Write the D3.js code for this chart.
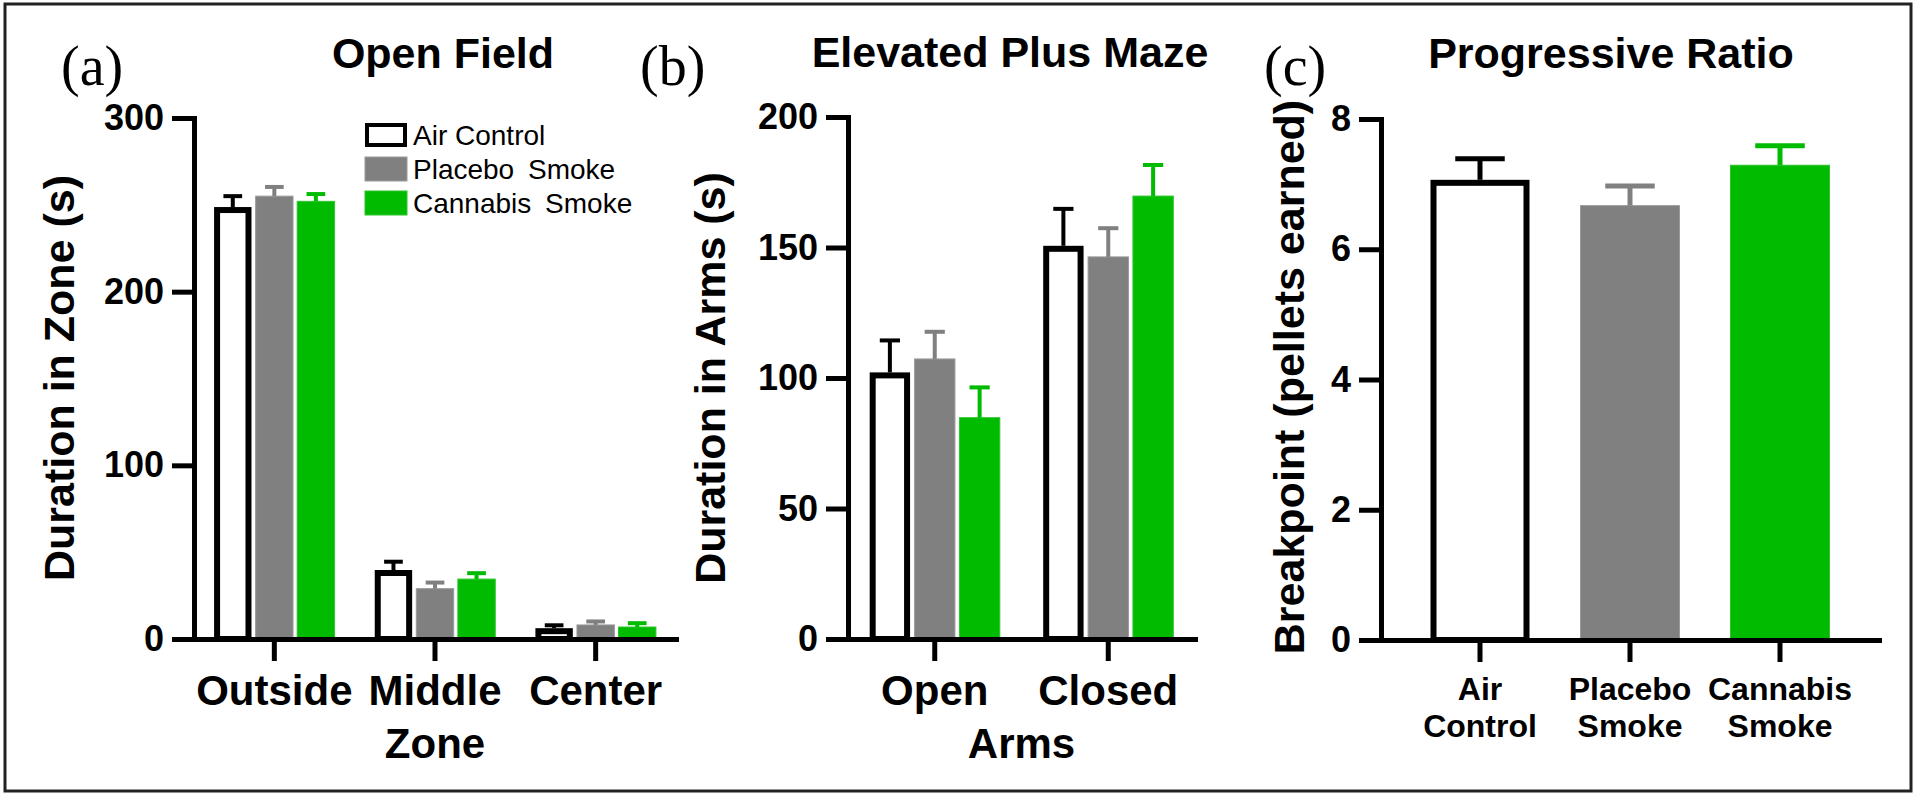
<!DOCTYPE html>
<html>
<head>
<meta charset="utf-8">
<script src="https://cdn.jsdelivr.net/npm/d3@7"></script>
<style>
    body { margin: 0; background: #fff; }
    text { font-family: "Liberation Sans", Arial, sans-serif; fill: #000; }
</style>
</head>
<body>
<svg id="fig"></svg>
<script>
    var w = 1920;
    var h = 795;

    // treatment groups shared by all three panels
    var treatments = ["Air Control", "Placebo Smoke", "Cannabis Smoke"];
    var fills = ["#ffffff", "#808080", "#00bb00"];
    var edges = ["#000000", "#9a9a9a", "#2ec42e"];
    var errColors = ["#000000", "#808080", "#00bb00"];

    // (a) open field
    var zones = ["Outside", "Middle", "Center"];
    var zoneMeans = [[247, 255, 252], [38, 29, 34.5], [4.5, 8.1, 6.9]];
    var zoneSem = [[8, 5.3, 4.2], [6.5, 3.5, 3.4], [3.4, 2, 2.2]];
    var zoneTicks = [0, 100, 200, 300];

    // (b) elevated plus maze
    var arms = ["Open", "Closed"];
    var armMeans = [[101, 107.3, 84.8], [149.5, 146.4, 169.7]];
    var armSem = [[13.4, 10.4, 11.6], [15.3, 11, 11.9]];
    var armTicks = [0, 50, 100, 150, 200];

    // (c) progressive ratio
    var prMeans = [7.02, 6.67, 7.29];
    var prSem = [0.37, 0.3, 0.3];
    var prTicks = [0, 2, 4, 6, 8];
    var prLabels = [["Air", "Control"], ["Placebo", "Smoke"], ["Cannabis", "Smoke"]];

    var svg = d3.select("#fig")
        .attr("width", w)
        .attr("height", h);

    // frame
    svg.append("rect")
        .attr("x", 5).attr("y", 4)
        .attr("width", 1906).attr("height", 787)
        .attr("fill", "none")
        .attr("stroke", "#222")
        .attr("stroke-width", 3);

    function styleAxis(g, fontSize) {
        g.select(".domain").attr("stroke-width", 5).attr("stroke-linecap", "square");
        g.selectAll(".tick line").attr("stroke-width", 5);
        g.selectAll(".tick text")
            .attr("font-size", fontSize + "px")
            .attr("font-weight", "bold")
            .attr("fill", "#000");
    }

    function yAxis(y, ticks, left) {
        var g = svg.append("g")
            .attr("transform", "translate(" + left + ",0)")
            .call(d3.axisLeft(y).tickValues(ticks).tickSize(22).tickPadding(8).tickSizeOuter(0));
        styleAxis(g, 36);
    }

    function yTitle(text, x, y) {
        svg.append("text")
            .text(text)
            .attr("transform", "translate(" + x + "," + y + ") rotate(-90)")
            .attr("text-anchor", "middle")
            .attr("font-size", "43px")
            .attr("font-weight", "bold");
    }

    function title(text, x, y) {
        svg.append("text")
            .text(text)
            .attr("x", x).attr("y", y)
            .attr("text-anchor", "middle")
            .attr("font-size", "43px")
            .attr("font-weight", "bold");
    }

    function letter(text, x) {
        svg.append("text")
            .text(text)
            .attr("x", x).attr("y", 85)
            .style("font-family", "'Liberation Serif', 'Times New Roman', serif")
            .attr("font-size", "56px");
    }

    // one bar with its upward error bar
    function bar(x, bw, y, v, e, j, capW, errW) {
        var cx = x + bw / 2;
        if (j === 0) {
            svg.append("rect")
                .attr("x", x + 3).attr("y", y(v))
                .attr("width", bw - 6).attr("height", y(0) - y(v))
                .attr("fill", "#fff").attr("stroke", "#000").attr("stroke-width", 6);
        } else {
            svg.append("rect")
                .attr("x", x).attr("y", y(v))
                .attr("width", bw).attr("height", y(0) - y(v))
                .attr("fill", fills[j]).attr("stroke", edges[j]).attr("stroke-width", 1);
        }
        var top = j === 0 ? y(v) - 3 : y(v);
        svg.append("line")
            .attr("x1", cx).attr("x2", cx)
            .attr("y1", top).attr("y2", y(v + e))
            .attr("stroke", errColors[j]).attr("stroke-width", errW);
        svg.append("line")
            .attr("x1", cx - capW / 2).attr("x2", cx + capW / 2)
            .attr("y1", y(v + e)).attr("y2", y(v + e))
            .attr("stroke", errColors[j]).attr("stroke-width", errW);
    }

    function groupedPanel(cats, means, sems, ticks, left, right, top, bottom, axisName) {
        var x0 = d3.scaleBand().domain(cats).range([left, right])
            .paddingInner(0.25).paddingOuter(0.125);
        var x1 = d3.scaleBand().domain(treatments).range([0, x0.bandwidth()])
            .paddingInner(0.1);
        var y = d3.scaleLinear().domain([0, d3.max(ticks)]).range([bottom, top]);

        cats.forEach(function (c, i) {
            treatments.forEach(function (t, j) {
                bar(x0(c) + x1(t), x1.bandwidth(), y, means[i][j], sems[i][j], j,
                    x1.bandwidth() / 2, 4);
            });
        });

        var gx = svg.append("g")
            .attr("transform", "translate(0," + bottom + ")")
            .call(d3.axisBottom(x0).tickSize(22).tickPadding(14).tickSizeOuter(0));
        styleAxis(gx, 42);
        yAxis(y, ticks, left);

        svg.append("text")
            .text(axisName)
            .attr("x", (left + right) / 2).attr("y", 758)
            .attr("text-anchor", "middle")
            .attr("font-size", "42px")
            .attr("font-weight", "bold");
    }

    // panel a
    letter("(a)", 61);
    title("Open Field", 443, 68);
    groupedPanel(zones, zoneMeans, zoneSem, zoneTicks, 194, 676, 118, 639, "Zone");
    yTitle("Duration in Zone (s)", 74, 378);

    // legend
    treatments.forEach(function (t, j) {
        var ly = 123 + 34 * j;
        if (j === 0) {
            svg.append("rect")
                .attr("x", 367).attr("y", ly + 2).attr("width", 38).attr("height", 20)
                .attr("fill", "#fff").attr("stroke", "#000").attr("stroke-width", 4);
        } else {
            svg.append("rect")
                .attr("x", 365).attr("y", ly).attr("width", 42).attr("height", 24)
                .attr("fill", fills[j]).attr("stroke", edges[j]).attr("stroke-width", 1);
        }
        svg.append("text")
            .text(t)
            .attr("x", 413).attr("y", ly + 12)
            .attr("dy", "0.35em")
            .attr("font-size", "28px")
            .attr("word-spacing", j === 0 ? "0px" : "6px");
    });

    // panel b
    letter("(b)", 640);
    title("Elevated Plus Maze", 1010, 67);
    groupedPanel(arms, armMeans, armSem, armTicks, 848, 1195, 117, 639, "Arms");
    yTitle("Duration in Arms (s)", 725, 378);

    // panel c
    letter("(c)", 1264);
    title("Progressive Ratio", 1611, 68);
    var xc = d3.scaleBand().domain(treatments).range([1381, 1879])
        .paddingInner(0.34).paddingOuter(0.33);
    var yc = d3.scaleLinear().domain([0, 8]).range([640, 119]);
    treatments.forEach(function (t, j) {
        bar(xc(t), xc.bandwidth(), yc, prMeans[j], prSem[j], j, xc.bandwidth() / 2, 5);
    });
    var gxc = svg.append("g")
        .attr("transform", "translate(0,640)")
        .call(d3.axisBottom(xc).tickSize(22).tickSizeOuter(0).tickFormat(""));
    styleAxis(gxc, 32);
    yAxis(yc, prTicks, 1381);
    treatments.forEach(function (t, j) {
        var lbl = svg.append("text")
            .attr("text-anchor", "middle")
            .attr("font-size", "32px")
            .attr("font-weight", "bold");
        prLabels[j].forEach(function (s, k) {
            lbl.append("tspan")
                .text(s)
                .attr("x", xc(t) + xc.bandwidth() / 2)
                .attr("y", 700 + 37 * k);
        });
    });
    yTitle("Breakpoint (pellets earned)", 1304, 377);
</script>
</body>
</html>
